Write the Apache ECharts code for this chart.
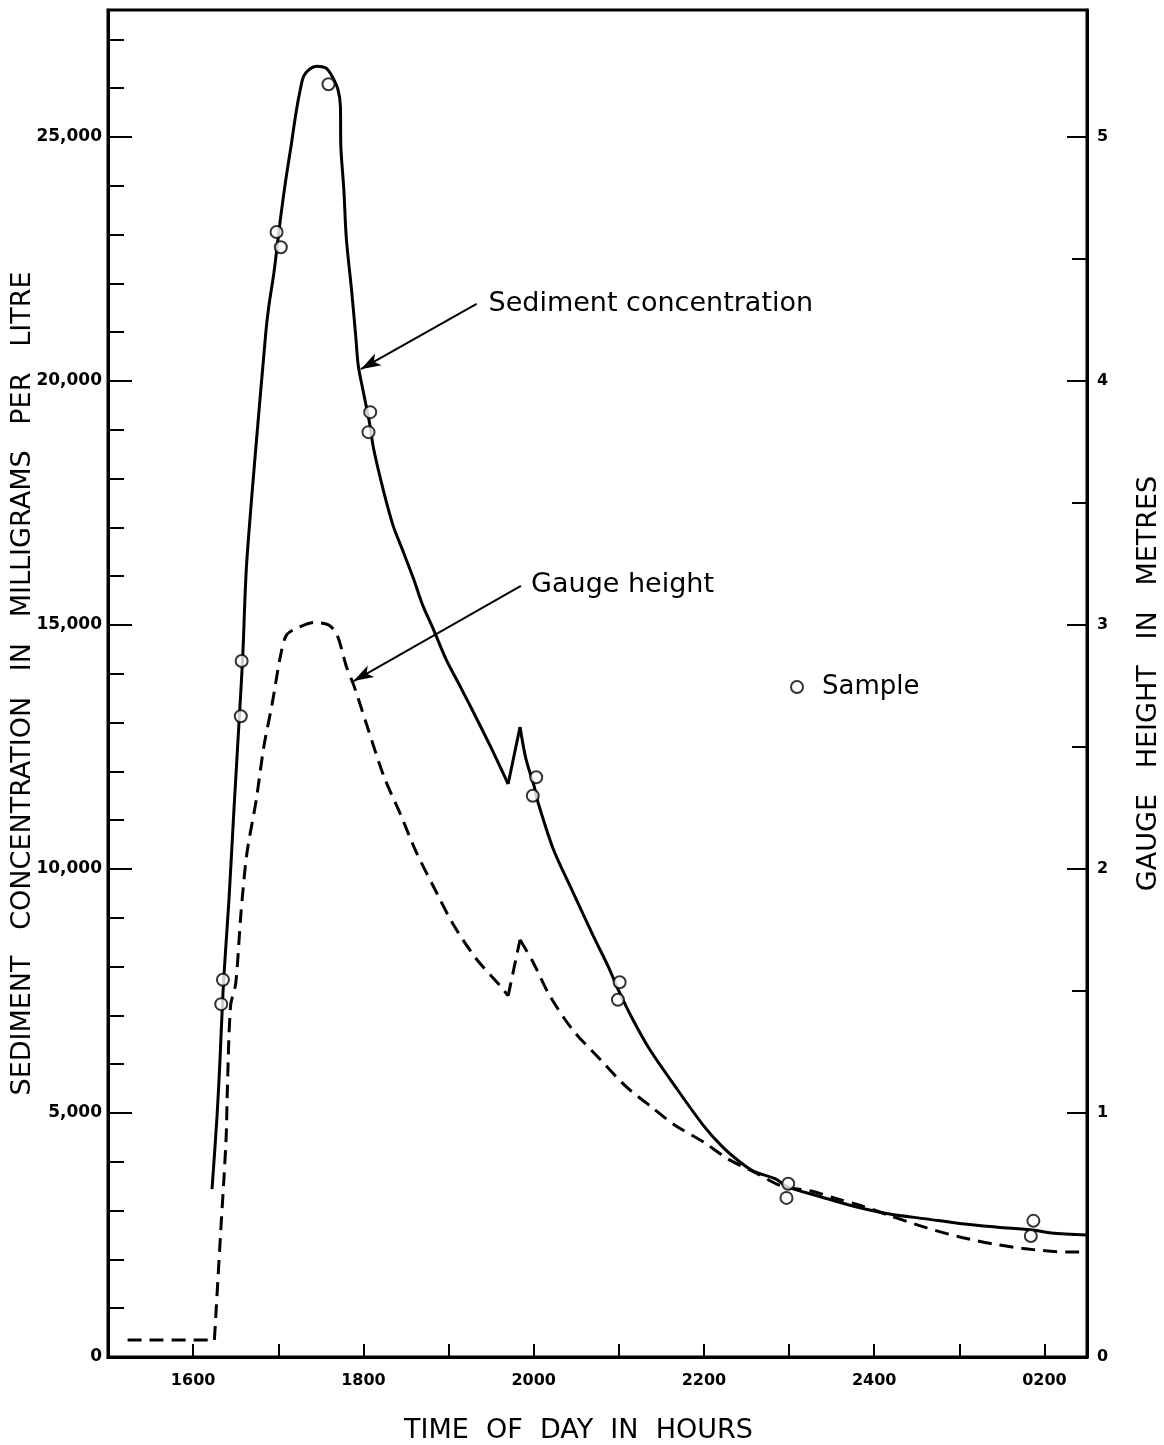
<!DOCTYPE html>
<html>
<head>
<meta charset="utf-8">
<title>Sediment concentration and gauge height</title>
<script src="https://cdn.jsdelivr.net/npm/echarts@6/dist/echarts.min.js"></script>
<style>
html, body { margin: 0; padding: 0; background: #fff; }
#chart { width: 1164px; height: 1445px; }
</style>
</head>
<body>
<div id="chart"></div>
<script>
// time is in decimal hours, 24 = midnight, 26 = 0200 next day
var concTime = [16.222, 16.281, 16.316, 16.351, 16.386, 16.422, 16.48, 16.562, 16.585, 16.632, 16.85, 16.89, 16.95,
  17.03, 17.09, 17.15, 17.21, 17.26, 17.30, 17.37, 17.45, 17.56, 17.63, 17.70, 17.73, 17.735, 17.77, 17.80, 17.86, 17.91, 17.94,
  18.00, 18.07, 18.12, 18.24, 18.35, 18.47, 18.59, 18.70, 18.82, 18.97, 19.14, 19.29, 19.49, 19.70, 19.84, 19.91,
  20.005, 20.05, 20.23, 20.46, 20.70, 20.89, 21.00, 21.16, 21.36, 21.66, 22.00, 22.21, 22.42, 22.58, 22.84, 22.99,
  23.34, 23.76, 24.18, 24.61, 25.03, 25.45, 25.87, 26.08, 26.50];
var concValue = [3440, 4940, 6110, 7480, 8460, 9400, 11230, 13690, 14450, 16350, 20920, 21540, 22230,
  23380, 24140, 24810, 25510, 25980, 26250, 26390, 26450, 26410, 26250, 25980, 25630, 24810, 23930, 22910, 21880, 20920, 20310,
  19770, 19160, 18610, 17720, 17030, 16490, 15940, 15390, 14920, 14300, 13730, 13220, 12520, 11740, 12910, 12250,
  11700, 11370, 10410, 9530, 8630, 7950, 7500, 6930, 6310, 5550, 4730, 4320, 4000, 3810, 3650, 3480,
  3300, 3090, 2930, 2830, 2730, 2660, 2600, 2540, 2500];
// indices of sharp corners (the kink near 2000)
var concCorners = [44, 45];

var gaugeTime = [15.23, 16.25, 16.33, 16.36, 16.39, 16.40, 16.44, 16.50, 16.56, 16.63, 16.74, 16.83, 16.93, 17.03, 17.10,
  17.24, 17.42, 17.59, 17.69, 17.80, 17.89, 18.04, 18.24, 18.44, 18.62, 18.82, 19.06, 19.33, 19.61, 19.70, 19.84, 19.99,
  20.19, 20.46, 20.78, 21.08, 21.40, 21.66, 22.00, 22.29, 22.58, 22.92, 23.26, 23.55, 23.85, 24.18, 24.61, 25.03,
  25.45, 25.87, 26.29, 26.50];
var gaugeValue = [0.07, 0.07, 0.55, 0.72, 0.92, 1.07, 1.44, 1.53, 1.81, 2.06, 2.28, 2.50, 2.68, 2.88, 2.96,
  2.99, 3.01, 3.00, 2.96, 2.83, 2.75, 2.59, 2.38, 2.22, 2.07, 1.93, 1.77, 1.63, 1.52, 1.48, 1.71, 1.62,
  1.48, 1.34, 1.22, 1.11, 1.02, 0.95, 0.88, 0.81, 0.76, 0.70, 0.68, 0.65, 0.62, 0.58, 0.53, 0.49,
  0.46, 0.44, 0.43, 0.43];
var gaugeCorners = [1, 29, 30];

var sampleTime = [16.35, 16.33, 16.57, 16.56, 16.98, 17.03, 17.59, 18.08, 18.06, 20.03, 19.99, 21.01, 20.99, 22.99, 22.97, 25.87, 25.84];
var sampleValue = [7730, 7230, 14260, 13130, 23050, 22740, 26080, 19360, 18950, 11880, 11500, 7680, 7320, 3550, 3260, 2790, 2480];

// tick labels
var hourLabelAt = [16, 18, 20, 22, 24, 26];
var hourLabelText = ['1600', '1800', '2000', '2200', '2400', '0200'];
var concLabelAt = [0, 5000, 10000, 15000, 20000, 25000];
var concLabelText = ['0', '5,000', '10,000', '15,000', '20,000', '25,000'];
var gaugeLabelAt = [0, 1, 2, 3, 4, 5];
var gaugeLabelText = ['0', '1', '2', '3', '4', '5'];
var gaugeMinorAt = [0.5, 1.5, 2.5, 3.5, 4.5];

// annotations: text and the arrow pointing at each curve
var noteText = ['Sediment concentration', 'Gauge height'];
var noteAt = [[19.47, 21580], [19.97, 15820]];
var arrowFrom = [[19.33, 21580], [19.85, 15800]];
var arrowTo = [[17.97, 20240], [17.885, 13850]];

var black = '#000';
var font = 'DejaVu Sans';

function pick(at, text) {
  return function (v) {
    for (var i = 0; i < at.length; i++) {
      if (Math.abs(v - at[i]) < 1e-6) return text[i];
    }
    return '';
  };
}

// split a curve at its corners so smoothing keeps them sharp
function segments(xs, ys, corners) {
  var out = [], cur = [];
  for (var i = 0; i < xs.length; i++) {
    cur.push([xs[i], ys[i]]);
    if (corners.indexOf(i) >= 0) {
      out.push(cur);
      cur = [[xs[i], ys[i]]];
    }
  }
  out.push(cur);
  return out;
}

var tickLabel = { color: black, fontFamily: font, fontWeight: 'bold', fontSize: 16 };
var titleStyle = { color: black, fontFamily: font, fontSize: 27 };

var series = [];
segments(concTime, concValue, concCorners).forEach(function (seg, i) {
  var s = {
    name: 'Sediment concentration', type: 'line', yAxisIndex: 0,
    data: seg, showSymbol: false, smooth: 0.3,
    lineStyle: { color: black, width: 3 }
  };
  if (i === 0) {
    s.markLine = {
      silent: true, symbol: ['none', 'arrow'], symbolSize: [10, 20],
      label: { show: false },
      lineStyle: { color: black, width: 2, type: 'solid' },
      data: arrowFrom.map(function (a, k) { return [{ coord: a }, { coord: arrowTo[k] }]; })
    };
  }
  series.push(s);
});
segments(gaugeTime, gaugeValue, gaugeCorners).forEach(function (seg) {
  series.push({
    name: 'Gauge height', type: 'line', yAxisIndex: 1,
    data: seg, showSymbol: false, smooth: 0.3,
    lineStyle: { color: black, width: 3, type: [14, 8] }
  });
});
series.push({
  name: 'Sample', type: 'scatter', yAxisIndex: 0, z: 5,
  data: sampleTime.map(function (t, i) { return [t, sampleValue[i]]; }),
  symbol: 'circle', symbolSize: 12,
  itemStyle: { color: '#fff', borderColor: black, borderWidth: 2 }
});

var option = {
  animation: false,
  backgroundColor: '#fff',
  grid: {
    left: 108, right: 77, top: 10, bottom: 88, outerBoundsMode: 'none',
    show: true, borderColor: black, borderWidth: 3
  },
  legend: {
    data: ['Sample'], left: 790, top: 674, padding: 0,
    itemWidth: 12, itemHeight: 12, icon: 'circle',
    itemStyle: { color: '#fff', borderColor: black, borderWidth: 2 },
    textStyle: { color: black, fontFamily: font, fontSize: 26, padding: [0, 0, 0, 14] }
  },
  xAxis: {
    type: 'value', min: 15, max: 26.5, interval: 1,
    axisLine: { lineStyle: { color: black, width: 3 } },
    axisTick: { inside: true, length: 13, lineStyle: { color: black, width: 2 } },
    axisLabel: Object.assign({ formatter: pick(hourLabelAt, hourLabelText), margin: 16 }, tickLabel),
    splitLine: { show: false },
    name: 'TIME  OF  DAY  IN  HOURS', nameLocation: 'middle', nameGap: 60,
    nameTextStyle: Object.assign({ padding: [0, 38, 0, 0] }, titleStyle)
  },
  yAxis: [
    {
      type: 'value', position: 'left', min: 0, max: 27600, interval: 5000,
      axisLine: { show: true, lineStyle: { color: black, width: 3 } },
      axisTick: { show: true, inside: true, length: 24, lineStyle: { color: black, width: 2 } },
      axisLabel: Object.assign({ formatter: pick(concLabelAt, concLabelText), margin: 6 }, tickLabel, { fontSize: 17 }),
      splitLine: { show: false },
      name: 'SEDIMENT   CONCENTRATION   IN   MILLIGRAMS   PER   LITRE', nameLocation: 'middle',
      nameGap: 72, nameMoveOverlap: false,
      nameTextStyle: titleStyle
    },
    {
      type: 'value', position: 'right', min: 0, max: 5.52, interval: 1,
      axisLine: { show: true, lineStyle: { color: black, width: 3 } },
      axisTick: { show: true, inside: true, length: 20, lineStyle: { color: black, width: 2 } },
      axisLabel: Object.assign({ formatter: pick(gaugeLabelAt, gaugeLabelText), margin: 10 }, tickLabel),
      splitLine: { show: false },
      name: 'GAUGE   HEIGHT   IN   METRES', nameLocation: 'middle', nameGap: 48,
      nameTextStyle: titleStyle
    },
    {
      type: 'value', position: 'left', min: 0, max: 27600, interval: 1000,
      axisLine: { show: false }, axisLabel: { show: false }, splitLine: { show: false },
      axisTick: { show: true, inside: true, length: 16, lineStyle: { color: black, width: 2 } }
    },
    {
      type: 'value', position: 'right', min: 0, max: 5.52, interval: 0.5,
      axisLine: { show: false }, axisLabel: { show: false }, splitLine: { show: false },
      axisTick: { show: true, inside: true, length: 15, customValues: gaugeMinorAt, lineStyle: { color: black, width: 2 } }
    }
  ],
  series: series
};

var chart = echarts.init(document.getElementById('chart'));
chart.setOption(option);

// place the annotation texts through the chart's own scales
var notes = noteText.map(function (t, i) {
  var p = chart.convertToPixel({ xAxisIndex: 0, yAxisIndex: 0 }, noteAt[i]);
  return {
    type: 'text', x: p[0], y: p[1], z: 10,
    style: { text: t, fill: black, fontFamily: font, fontSize: 27, align: 'left', verticalAlign: 'middle' }
  };
});
chart.setOption({ graphic: notes });
</script>
</body>
</html>
